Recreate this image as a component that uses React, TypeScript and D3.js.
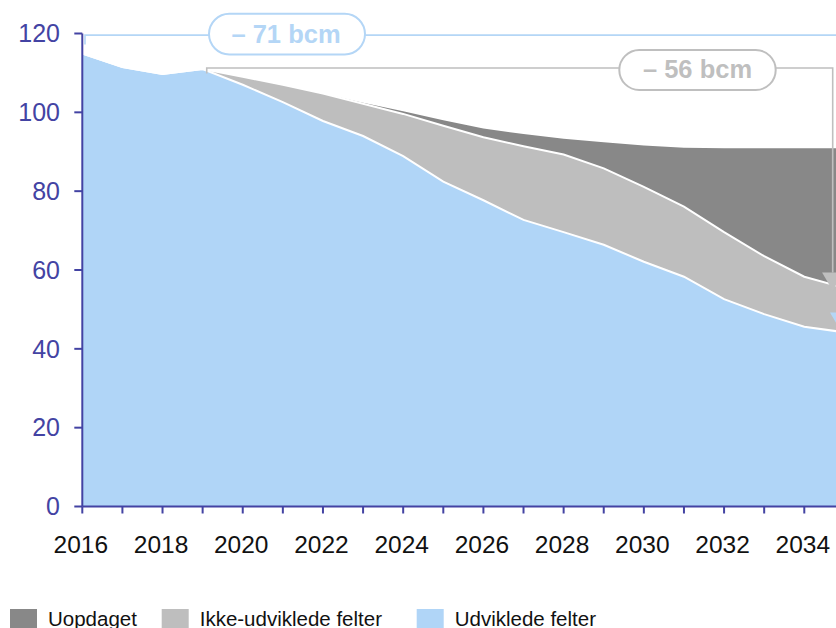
import React from 'react';
import * as d3 from 'd3';

const years = [2016, 2017, 2018, 2019, 2020, 2021, 2022, 2023, 2024, 2025, 2026, 2027, 2028, 2029, 2030, 2031, 2032, 2033, 2034, 2035];
const udviklede = [114.9, 111.5, 109.7, 111.0, 107.0, 102.6, 97.8, 94.0, 88.9, 82.4, 77.7, 72.7, 69.6, 66.4, 62.1, 58.3, 52.6, 48.8, 45.6, 44.2];
const ikkeUdviklede = [0, 0, 0, 0, 2.0, 4.4, 7.0, 8.2, 10.7, 14.2, 16.0, 18.7, 19.7, 19.4, 19.0, 17.8, 17.0, 14.7, 12.7, 11.3];
const uopdaget = [0, 0, 0, 0, 0, 0, 0, 0.2, 0.7, 1.4, 2.2, 3.1, 4.0, 6.6, 10.5, 14.9, 21.3, 27.4, 32.6, 35.4];
const yTicks = [0, 20, 40, 60, 80, 100, 120];
const xTickLabels = [2016, 2018, 2020, 2022, 2024, 2026, 2028, 2030, 2032, 2034];
const seriesKeys = ['udviklede', 'ikke', 'uopdaget'];
const legendLabels = ['Uopdaget', 'Ikke-udviklede felter', 'Udviklede felter'];
const legendKeys = ['uopdaget', 'ikke', 'udviklede'];
const colors: Record<string, string> = { udviklede: '#b0d5f7', ikke: '#bebebe', uopdaget: '#888888' };
const annoBlueLabel = '– 71 bcm';
const annoGrayLabel = '– 56 bcm';

const W = 836;
const H = 628;
const axisColor = '#4343a3';
const font = '"Liberation Sans", Arial, sans-serif';

export default function App() {
  const x = d3.scaleLinear().domain([2016, 2035]).range([82.3, 844.4]);
  const y = d3.scaleLinear().domain([0, 120]).range([506.5, 33.5]);

  const table = years.map((yr, i) => ({ year: yr, udviklede: udviklede[i], ikke: ikkeUdviklede[i], uopdaget: uopdaget[i] }));
  const stack = d3.stack<any>().keys(seriesKeys);
  const layers = stack(table);

  const area = d3.area<any>().x((d) => x(d.data.year)).y0((d) => y(d[0])).y1((d) => y(d[1])).curve(d3.curveLinear);
  const topLine = d3.line<any>().x((d) => x(d.data.year)).y((d) => y(d[1])).curve(d3.curveLinear);

  const allYears = d3.range(2016, 2036);

  const blueY = y(119.6);
  const grayY = y(udviklede[3]) - 1;
  const grayX = x(2035) - 11.7;
  const blueX = x(2035) - 3.8;
  const grayTip = y(udviklede[19] + ikkeUdviklede[19]) + 3;
  const blueTip = y(udviklede[19]) - 1.5;
  const ah = 18.3;
  const aw = 10.6;
  const blueC = '#b4d6f6';
  const grayC = '#bfbfbf';

  const legendX = [10, 161.7, 416.7];

  return (
    <svg width={W} height={H} style={{ position: 'absolute', left: 0, top: 0, fontFamily: font }}>
      <rect x={0} y={0} width={W} height={H} fill="#ffffff" />
      {layers.map((L) => (
        <path key={L.key} d={area(L) || ''} fill={colors[L.key]} />
      ))}
      {layers.slice(0, 2).map((L) => (
        <path key={'l' + L.key} d={topLine(L) || ''} fill="none" stroke="#ffffff" strokeWidth={2} />
      ))}

      <path d={`M${x(2016) + 2.7},${blueY + 9.5} V${blueY} H${blueX} V${blueTip - ah}`} fill="none" stroke={blueC} strokeWidth={1.6} />
      <path d={`M${blueX - aw},${blueTip - ah} L${blueX + aw},${blueTip - ah} L${blueX},${blueTip} Z`} fill={blueC} />
      <rect x={209} y={blueY - 21.3} width={156} height={40.6} rx={20.3} fill="#ffffff" stroke={blueC} strokeWidth={2} />
      <text x={286} y={blueY + 7.5} textAnchor="middle" fontSize={25.5} fontWeight="bold" fill={blueC}>{annoBlueLabel}</text>

      <path d={`M${x(2019) + 4.1},${grayY + 5.5} V${grayY} H${grayX} V${grayTip - ah}`} fill="none" stroke={grayC} strokeWidth={1.6} />
      <path d={`M${grayX - aw},${grayTip - ah} L${grayX + aw},${grayTip - ah} L${grayX},${grayTip} Z`} fill={grayC} />
      <rect x={619.3} y={grayY - 18} width={156.4} height={40} rx={20} fill="#ffffff" stroke={grayC} strokeWidth={2} />
      <text x={697.5} y={grayY + 10.5} textAnchor="middle" fontSize={25.5} fontWeight="bold" fill={grayC}>{annoGrayLabel}</text>

      <line x1={x(2016)} x2={x(2016)} y1={y(120)} y2={y(0)} stroke={axisColor} strokeWidth={2} />
      {yTicks.map((t) => (
        <g key={'y' + t}>
          <line x1={x(2016) - 8} x2={x(2016)} y1={y(t)} y2={y(t)} stroke={axisColor} strokeWidth={2} />
          <text x={60} y={y(t) + 8.8} textAnchor="end" fontSize={25} fill={axisColor}>{t}</text>
        </g>
      ))}

      <line x1={x(2016)} x2={W} y1={y(0)} y2={y(0)} stroke={axisColor} strokeWidth={2} />
      {allYears.map((yr) => (
        <line key={'xt' + yr} x1={x(yr)} x2={x(yr)} y1={y(0)} y2={y(0) + 7} stroke={axisColor} strokeWidth={2} />
      ))}
      {xTickLabels.map((yr) => (
        <text key={'xl' + yr} x={x(yr) - 1.5} y={552.7} textAnchor="middle" fontSize={24.5} fill="#111111">{yr}</text>
      ))}

      {legendKeys.map((k, i) => (
        <g key={'lg' + k}>
          <rect x={legendX[i]} y={609} width={27} height={20} fill={colors[k]} />
          <text x={legendX[i] + 38} y={625.5} fontSize={20.5} fill="#111111">{legendLabels[i]}</text>
        </g>
      ))}
    </svg>
  );
}
